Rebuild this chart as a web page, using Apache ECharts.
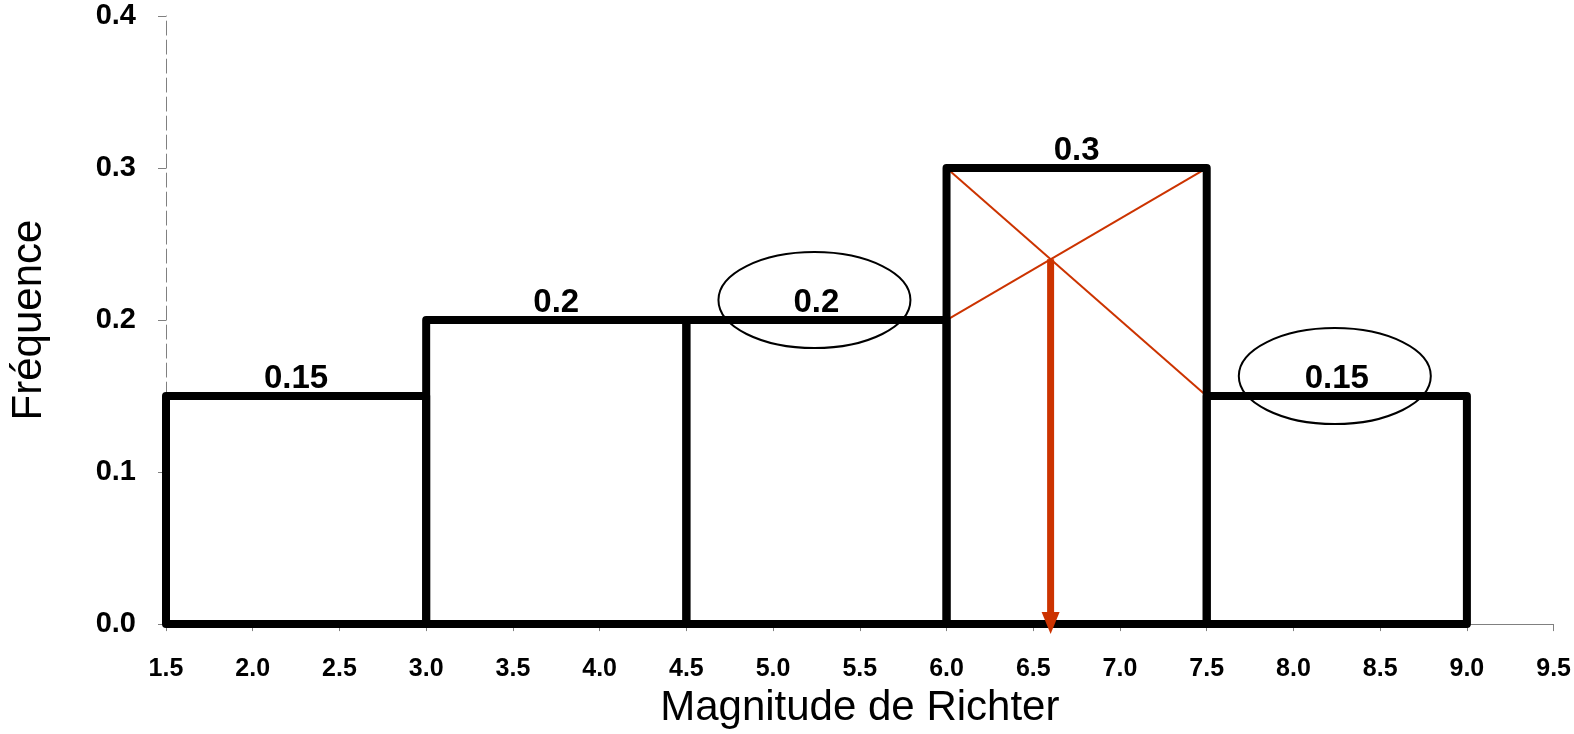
<!DOCTYPE html>
<html>
<head>
<meta charset="utf-8">
<script src="https://cdn.jsdelivr.net/npm/echarts@6/dist/echarts.min.js"></script>
<style>
  html, body { margin: 0; padding: 0; background: #fff; }
  #chart { width: 1574px; height: 734px; }
</style>
</head>
<body>
<div id="chart"></div>
<script>
// Histogram classes: lower bound, upper bound, relative frequency
const binStarts = [1.5, 3.0, 4.5, 6.0, 7.5];
const binEnds   = [3.0, 4.5, 6.0, 7.5, 9.0];
const freqs     = [0.15, 0.2, 0.2, 0.3, 0.15];
const freqLabels = ['0.15', '0.2', '0.2', '0.3', '0.15'];

// Classes whose frequency label is circled
const circled = [2, 4];

// Modal class and its neighbours
const modal = 3;

const FONT = '"Liberation Sans", Arial, sans-serif';
const RED = '#cc3300';

const binData = binStarts.map((s, i) => [s, binEnds[i], freqs[i], freqLabels[i]]);

// Diagonals of the modal class used to locate the mode
const L = binStarts[modal], U = binEnds[modal];
const diagA = [[L, freqs[modal]], [U, freqs[modal + 1]]];
const diagB = [[L, freqs[modal - 1]], [U, freqs[modal]]];
const d1 = freqs[modal] - freqs[modal - 1];
const d2 = freqs[modal] - freqs[modal + 1];
const modeX = L + d1 / (d1 + d2) * (U - L);
const modeY = freqs[modal - 1] + (freqs[modal] - freqs[modal - 1]) * (modeX - L) / (U - L);

const ellipseData = circled.map(i => [(binStarts[i] + binEnds[i]) / 2, freqs[i]]);

const chart = echarts.init(document.getElementById('chart'));

chart.setOption({
  animation: false,
  backgroundColor: '#fff',
  grid: { left: 163, right: 17, top: 16, bottom: 103, containLabel: false },
  xAxis: {
    type: 'value',
    min: 1.5, max: 9.5, interval: 0.5,
    name: 'Magnitude de Richter',
    nameLocation: 'middle',
    nameGap: 55,
    nameTextStyle: { fontFamily: FONT, fontSize: 42, color: '#000' },
    axisLine: { show: true, onZero: false, lineStyle: { color: '#808080', width: 1 } },
    axisTick: { show: true, inside: false, length: 7, lineStyle: { color: '#808080' } },
    axisLabel: {
      margin: 33, fontFamily: FONT, fontWeight: 'bold', fontSize: 25, color: '#000',
      formatter: v => v.toFixed(1)
    },
    splitLine: { show: false }
  },
  yAxis: {
    type: 'value',
    min: 0, max: 0.4, interval: 0.1,
    name: 'Fréquence',
    nameLocation: 'middle',
    nameGap: 116,
    nameRotate: 90,
    nameTextStyle: { fontFamily: FONT, fontSize: 42, color: '#000' },
    axisLine: { show: true, onZero: false, lineStyle: { color: '#808080', width: 1, type: [14, 5] } },
    axisTick: { show: true, inside: false, length: 8, lineStyle: { color: '#808080' } },
    axisLabel: {
      margin: 30, fontFamily: FONT, fontWeight: 'bold', fontSize: 29, color: '#000',
      formatter: v => v.toFixed(1)
    },
    splitLine: { show: false }
  },
  series: [
    {
      // diagonals of the modal class
      type: 'line', data: diagA, symbol: 'none', z: 1,
      lineStyle: { color: RED, width: 2 }, silent: true
    },
    {
      type: 'line', data: diagB, symbol: 'none', z: 1,
      lineStyle: { color: RED, width: 2 }, silent: true
    },
    {
      // histogram classes
      type: 'custom', z: 3, clip: false,
      data: binData,
      renderItem: function (params, api) {
        const p0 = api.coord([api.value(0), api.value(2)]);
        const p1 = api.coord([api.value(1), 0]);
        const label = binData[params.dataIndex][3];
        return {
          type: 'group',
          children: [
            {
              type: 'rect',
              shape: { x: p0[0], y: p0[1], width: p1[0] - p0[0], height: p1[1] - p0[1] },
              style: { fill: 'none', stroke: '#000', lineWidth: 8, lineJoin: 'round' }
            },
            {
              type: 'text',
              style: {
                x: (p0[0] + p1[0]) / 2, y: p0[1] - 1,
                text: label, align: 'center', verticalAlign: 'bottom',
                font: 'bold 33px ' + FONT, fill: '#000'
              }
            }
          ]
        };
      }
    },
    {
      // circles around selected labels
      type: 'custom', z: 4, clip: false,
      data: ellipseData,
      renderItem: function (params, api) {
        const c = api.coord([api.value(0), api.value(1)]);
        return {
          type: 'ellipse',
          shape: { cx: c[0] - 2, cy: c[1] - 20, rx: 96, ry: 48 },
          style: { fill: 'none', stroke: '#000', lineWidth: 2 }
        };
      }
    },
    {
      // arrow from the diagonals' crossing down to the mode
      type: 'custom', z: 5, clip: false,
      data: [[modeX, modeY]],
      renderItem: function (params, api) {
        const top = api.coord([api.value(0), api.value(1)]);
        const base = api.coord([api.value(0), 0]);
        const tipY = base[1] + 10;
        const headH = 22, headW = 9;
        return {
          type: 'group',
          children: [
            {
              type: 'line',
              shape: { x1: top[0], y1: top[1], x2: top[0], y2: tipY - headH + 2 },
              style: { stroke: RED, lineWidth: 7 }
            },
            {
              type: 'polygon',
              shape: { points: [[top[0] - headW, tipY - headH], [top[0] + headW, tipY - headH], [top[0], tipY]] },
              style: { fill: RED }
            }
          ]
        };
      }
    }
  ]
});
</script>
</body>
</html>
